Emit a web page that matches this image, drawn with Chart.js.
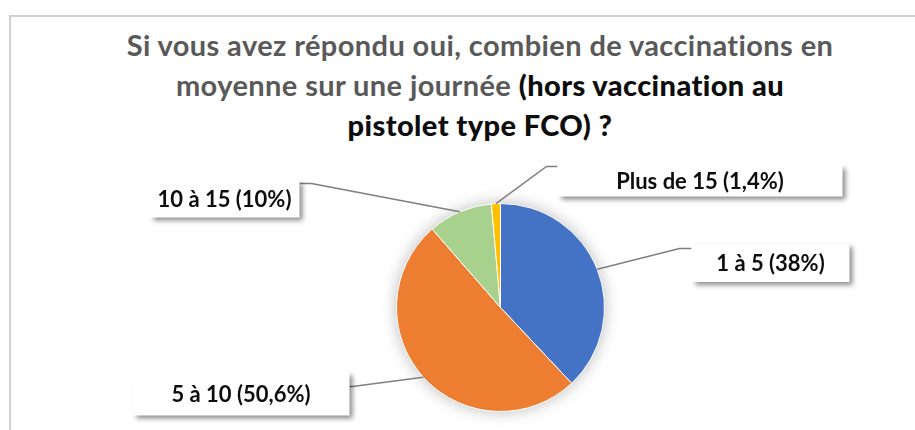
<!DOCTYPE html>
<html><head><meta charset="utf-8">
<script src="https://cdn.jsdelivr.net/npm/chart.js@4.4.1/dist/chart.umd.min.js"></script>
<style>
html,body{margin:0;padding:0;background:#fff;width:915px;height:430px;overflow:hidden;}
#frame{position:absolute;left:9px;top:15px;width:930px;height:440px;border-top:2px solid #d0d0d0;border-left:2px solid #d0d0d0;}
#title{position:absolute;left:0;top:25px;width:960px;text-align:center;font-family:Lato,"Open Sans",sans-serif;font-weight:bold;font-size:29px;letter-spacing:0.4px;line-height:40px;color:#595959;}
#title b{color:#0d0d0d;}
#wrap{position:absolute;left:0;top:0;width:915px;height:430px;}
</style></head>
<body>
<div id="frame"></div>
<div id="title">Si vous avez répondu oui, combien de vaccinations en<br>moyenne sur une journée <b>(hors vaccination au<br>pistolet type FCO) ?</b></div>
<div id="wrap"><canvas id="c" width="915" height="430"></canvas></div>
<script>
// ---- data ----
const categories = ["1 à 5", "5 à 10", "10 à 15", "Plus de 15"];
const percentages = [38, 50.6, 10, 1.4];
const sliceColors = ["#4472C4", "#ED7D31", "#A9D18E", "#FFC000"];

// ---- callout layout (offsets from pie centre, px) ----
const calloutBox = [[270, -44.5], [-259.5, 86], [-276, -109], [199.5, -127]];
const calloutSize = [[158, 38], [217, 44], [150, 38], [285, 32]];
const calloutElbow = [[179, -59], [-148, 79], [-189, -124], [46, -141]];

function fmtPct(v){ return String(v).replace('.', ',') + '%'; }

const calloutPlugin = {
  id: 'callouts',
  beforeDatasetsDraw(chart){
    const ctx = chart.ctx;
    const a = chart.getDatasetMeta(0).data[0];
    const p = a.getProps(['x','y','outerRadius'], true);
    ctx.save();
    ctx.shadowColor = 'rgba(0,0,0,0.28)';
    ctx.shadowBlur = 16;
    ctx.fillStyle = '#fff';
    ctx.beginPath(); ctx.arc(p.x, p.y, p.outerRadius, 0, Math.PI*2); ctx.fill();
    ctx.restore();
  },
  afterDatasetsDraw(chart){
    const ctx = chart.ctx;
    const meta = chart.getDatasetMeta(0);
    meta.data.forEach((arc, i) => {
      const p = arc.getProps(['x','y','startAngle','endAngle','outerRadius'], true);
      const mid = (p.startAngle + p.endAngle) / 2;
      const ax = p.x + Math.cos(mid) * p.outerRadius;
      const ay = p.y + Math.sin(mid) * p.outerRadius;
      const ex = p.x + calloutElbow[i][0], ey = p.y + calloutElbow[i][1];
      const w = calloutSize[i][0], h = calloutSize[i][1];
      const bx = p.x + calloutBox[i][0] - w/2, by = p.y + calloutBox[i][1] - h/2;
      const edgeX = (bx > ex) ? bx : bx + w;
      ctx.save();
      ctx.strokeStyle = '#7f7f7f';
      ctx.lineWidth = 1.5;
      ctx.beginPath(); ctx.moveTo(ax, ay); ctx.lineTo(ex, ey); ctx.lineTo(edgeX, ey); ctx.stroke();
      ctx.shadowColor = 'rgba(0,0,0,0.45)';
      ctx.shadowBlur = 5; ctx.shadowOffsetX = 3; ctx.shadowOffsetY = 3;
      ctx.fillStyle = '#fff';
      ctx.fillRect(bx, by, w, h);
      ctx.restore();
      ctx.save();
      ctx.fillStyle = '#0d0d0d';
      ctx.font = 'bold 22px Lato, "Open Sans", sans-serif';
      ctx.textAlign = 'center'; ctx.textBaseline = 'middle';
      ctx.fillText(categories[i] + ' (' + fmtPct(percentages[i]) + ')', bx + w/2, by + h/2 + 1);
      ctx.restore();
    });
  }
};

new Chart(document.getElementById('c'), {
  type: 'pie',
  data: {
    labels: categories,
    datasets: [{ data: percentages, backgroundColor: sliceColors, borderColor: '#ffffff', borderWidth: 1 }]
  },
  options: {
    responsive: false,
    animation: false,
    layout: { padding: { left: 396, right: 310, top: 203, bottom: 18 } },
    plugins: { legend: { display: false }, tooltip: { enabled: false }, title: { display: false } }
  },
  plugins: [calloutPlugin]
});
</script>
</body></html>
